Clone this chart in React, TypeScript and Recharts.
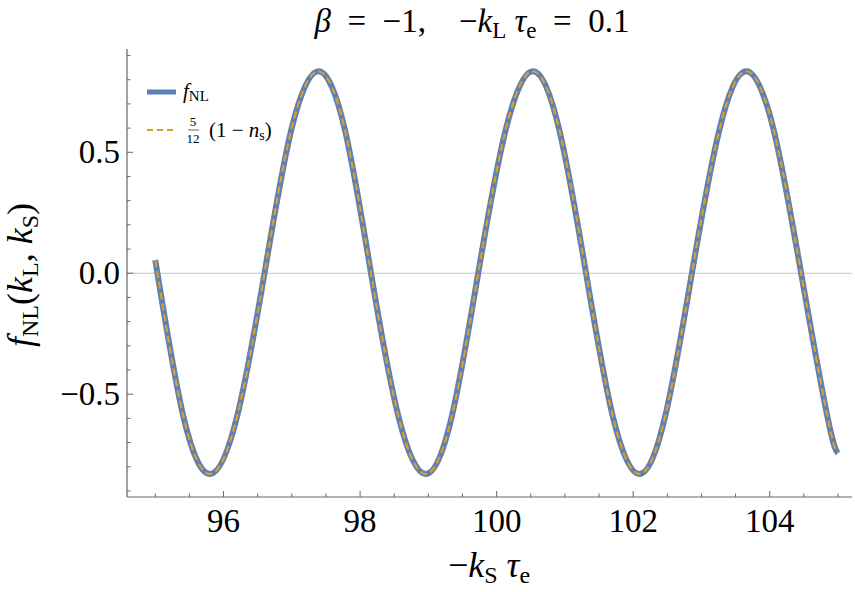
import React from "react";
import { LineChart, Line, XAxis, YAxis, ReferenceLine } from "recharts";

// values
const xValues = [95.0, 95.41, 95.805, 96.2, 96.6, 96.99, 97.39, 97.78, 98.16, 98.56, 98.96, 99.345, 99.73, 100.13, 100.53, 100.92, 101.31, 101.7, 102.09, 102.47, 102.86, 103.26, 103.66, 104.06, 104.46, 104.85, 105.0];
const fNLValues = [0.055, -0.59, -0.83, -0.59, 0.0, 0.59, 0.835, 0.59, 0.0, -0.59, -0.83, -0.59, 0.0, 0.59, 0.835, 0.59, 0.0, -0.59, -0.83, -0.59, 0.0, 0.59, 0.835, 0.59, 0.0, -0.6, -0.744];
const nsValues = [0.055, -0.59, -0.83, -0.59, 0.0, 0.59, 0.835, 0.59, 0.0, -0.59, -0.83, -0.59, 0.0, 0.59, 0.835, 0.59, 0.0, -0.59, -0.83, -0.59, 0.0, 0.59, 0.835, 0.59, 0.0, -0.6, -0.744];

const xTicks = [95, 95.5, 96, 96.5, 97, 97.5, 98, 98.5, 99, 99.5, 100, 100.5, 101, 101.5, 102, 102.5, 103, 103.5, 104, 104.5, 105];
const xMajorTicks = [96, 98, 100, 102, 104];
const yTicks = [-0.9, -0.8, -0.7, -0.6, -0.5, -0.4, -0.3, -0.2, -0.1, 0, 0.1, 0.2, 0.3, 0.4, 0.5, 0.6, 0.7, 0.8, 0.9];
const yMajorTicks = [-0.5, 0, 0.5];
const yMajorLabels = ["\u22120.5", "0.0", "0.5"];

const data = xValues.map((x, i) => ({ x, fNL: fNLValues[i], ns: nsValues[i] }));

const FONT = "'Liberation Serif', serif";
const FRAME = "#666666";
const BLUE = "#5E81B5";
const ORANGE = "#E19C24";

const isIn = (v: number, arr: number[]) => arr.findIndex((a) => Math.abs(a - v) < 1e-6);

const BottomTick = (props: any) => {
  const { x, y, payload } = props;
  const idx = isIn(payload.value, xMajorTicks);
  const len = idx >= 0 ? 6 : 3.5;
  return (
    <g>
      <line x1={x} x2={x} y1={y} y2={y - len} stroke={FRAME} strokeWidth={1} />
      {idx >= 0 && (
        <text x={x} y={y + 35} textAnchor="middle" fontSize={33} fontFamily={FONT} fill="#000">
          {xMajorTicks[idx]}
        </text>
      )}
    </g>
  );
};

const TopTick = (props: any) => {
  const { x, y, payload } = props;
  const idx = isIn(payload.value, xMajorTicks);
  const len = idx >= 0 ? 6 : 3.5;
  return <line x1={x} x2={x} y1={y} y2={y + len} stroke={FRAME} strokeWidth={1} />;
};

const LeftTick = (props: any) => {
  const { x, y, payload } = props;
  const idx = isIn(payload.value, yMajorTicks);
  const len = idx >= 0 ? 6 : 3.5;
  return (
    <g>
      <line x1={x} x2={x + len} y1={y} y2={y} stroke={FRAME} strokeWidth={1} />
      {idx >= 0 && (
        <text x={x - 7} y={y + 11} textAnchor="end" fontSize={33} fontFamily={FONT} fill="#000">
          {yMajorLabels[idx]}
        </text>
      )}
    </g>
  );
};

const RightTick = (props: any) => {
  const { x, y, payload } = props;
  const idx = isIn(payload.value, yMajorTicks);
  const len = idx >= 0 ? 6 : 3.5;
  return <line x1={x} x2={x - len} y1={y} y2={y} stroke={FRAME} strokeWidth={1} />;
};

export default function App() {
  return (
    <div style={{ position: "absolute", left: 0, top: 0, width: 855, height: 592, background: "#fff" }}>
      <LineChart width={855} height={592} data={data} margin={{ top: 49, right: 3, bottom: 0, left: 0 }}>
        <XAxis
          xAxisId="b"
          dataKey="x"
          type="number"
          domain={[94.586, 105.205]}
          ticks={xTicks}
          allowDataOverflow
          orientation="bottom"
          height={95}
          tickSize={0}
          tickMargin={0}
          tickLine={false}
          axisLine={{ stroke: FRAME, strokeWidth: 1.2 }}
          tick={<BottomTick />}
          interval={0}
        />
        <XAxis
          xAxisId="t"
          dataKey="x"
          type="number"
          domain={[94.586, 105.205]}
          ticks={xTicks}
          allowDataOverflow
          orientation="top"
          height={0}
          tickSize={0}
          tickMargin={0}
          tickLine={false}
          axisLine={{ stroke: FRAME, strokeWidth: 1.2 }}
          tick={<TopTick />}
          interval={0}
        />
        <YAxis
          yAxisId="l"
          type="number"
          domain={[-0.925, 0.927]}
          ticks={yTicks}
          allowDataOverflow
          orientation="left"
          width={127}
          tickSize={0}
          tickMargin={0}
          tickLine={false}
          axisLine={{ stroke: FRAME, strokeWidth: 1.2 }}
          tick={<LeftTick />}
          interval={0}
        />
        <YAxis
          yAxisId="r"
          type="number"
          domain={[-0.925, 0.927]}
          ticks={yTicks}
          allowDataOverflow
          orientation="right"
          width={0}
          tickSize={0}
          tickMargin={0}
          tickLine={false}
          axisLine={{ stroke: FRAME, strokeWidth: 1.2 }}
          tick={<RightTick />}
          interval={0}
        />
        <ReferenceLine xAxisId="b" yAxisId="l" y={0} stroke="#c4c4c4" strokeWidth={1} />
        <Line
          xAxisId="b"
          yAxisId="l"
          type="natural"
          dataKey="fNL"
          name="fNL"
          stroke={BLUE}
          strokeWidth={6}
          dot={false}
          isAnimationActive={false}
        />
        <Line
          xAxisId="b"
          yAxisId="l"
          type="natural"
          dataKey="ns"
          name="5/12 (1 - ns)"
          stroke={ORANGE}
          strokeWidth={2.2}
          strokeDasharray="7 4"
          dot={false}
          isAnimationActive={false}
        />
      </LineChart>
      <svg
        width={855}
        height={592}
        style={{ position: "absolute", left: 0, top: 0, pointerEvents: "none" }}
      >
        {/* legend */}
        <line x1={147} x2={176} y1={92} y2={92} stroke={BLUE} strokeWidth={5} />
        <text x={183} y={98} fontSize={21} fontFamily={FONT} fill="#000">
          <tspan fontStyle="italic">f</tspan>
          <tspan fontSize={15} dy={3}>NL</tspan>
        </text>
        <line x1={147} x2={176} y1={130} y2={130} stroke={ORANGE} strokeWidth={2.2} strokeDasharray="6 4" />
        <text x={193} y={126} fontSize={13} fontFamily={FONT} textAnchor="middle" fill="#000">5</text>
        <line x1={188} x2={199} y1={130} y2={130} stroke="#000" strokeWidth={0.6} />
        <text x={193} y={143} fontSize={13} fontFamily={FONT} textAnchor="middle" fill="#000">12</text>
        <text x={209} y={137} fontSize={21} fontFamily={FONT} fill="#000" style={{ whiteSpace: "pre" }}>
          {"(1 \u2212 "}
          <tspan fontStyle="italic">n</tspan>
          <tspan fontSize={14} dy={3}>s</tspan>
          <tspan dy={-3}>)</tspan>
        </text>

        {/* title */}
        <text x={472} y={32} textAnchor="middle" fontSize={33} fontFamily={FONT} fill="#000" style={{ whiteSpace: "pre" }}>
          <tspan fontStyle="italic">β</tspan>
          {"  =  \u22121,    \u2212"}
          <tspan fontStyle="italic">k</tspan>
          <tspan fontSize={23} dy={6}>L</tspan>
          <tspan dy={-6}>{" "}</tspan>
          <tspan fontStyle="italic">τ</tspan>
          <tspan fontSize={23} dy={6}>e</tspan>
          <tspan dy={-6}>{"  =  0.1"}</tspan>
        </text>

        {/* x label */}
        <text x={489} y={577} textAnchor="middle" fontSize={36} fontFamily={FONT} fill="#000" style={{ whiteSpace: "pre" }}>
          {"\u2212"}
          <tspan fontStyle="italic">k</tspan>
          <tspan fontSize={24} dy={6}>S</tspan>
          <tspan dy={-6}>{" "}</tspan>
          <tspan fontStyle="italic">τ</tspan>
          <tspan fontSize={24} dy={6}>e</tspan>
        </text>

        {/* y label */}
        <text
          transform="translate(32,275) rotate(-90)"
          x={0}
          y={0}
          textAnchor="middle"
          fontSize={36}
          fontFamily={FONT}
          fill="#000"
          style={{ whiteSpace: "pre" }}
        >
          <tspan fontStyle="italic">f</tspan>
          <tspan fontSize={24} dy={6}>NL</tspan>
          <tspan dy={-6}>(</tspan>
          <tspan fontStyle="italic">k</tspan>
          <tspan fontSize={24} dy={6}>L</tspan>
          <tspan dy={-6}>{", "}</tspan>
          <tspan fontStyle="italic">k</tspan>
          <tspan fontSize={24} dy={6}>S</tspan>
          <tspan dy={-6}>)</tspan>
        </text>
      </svg>
    </div>
  );
}
